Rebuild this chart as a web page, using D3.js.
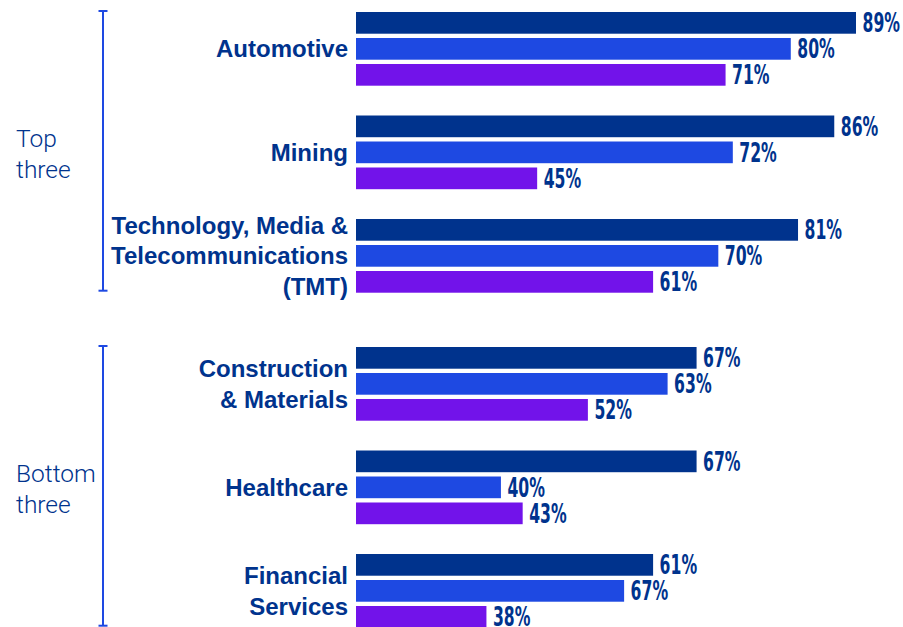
<!DOCTYPE html>
<html>
<head>
<meta charset="utf-8">
<script src="https://cdn.jsdelivr.net/npm/d3@7"></script>
<style>
  html, body { margin: 0; padding: 0; background: #fff; }
  svg { display: block; }
</style>
</head>
<body>
<svg id="chart" width="903" height="627"></svg>
<script>
// sector groups and their wrapped label lines
const topSectors = ['Automotive', 'Mining', 'TMT'];
const bottomSectors = ['Construction', 'Healthcare', 'Financial'];
const sectorLabels = {
  Automotive: ['Automotive'],
  Mining: ['Mining'],
  TMT: ['Technology, Media &', 'Telecommunications', '(TMT)'],
  Construction: ['Construction', '& Materials'],
  Healthcare: ['Healthcare'],
  Financial: ['Financial', 'Services'],
};
const blockLabels = [['Top', 'three'], ['Bottom', 'three']];

// three series per sector (top to bottom bar), bar lengths as drawn
const seriesKeys = ['s1', 's2', 's3'];
const s1 = [89, 86, 81, 67, 67, 61];
const s2 = [80, 72, 70, 63, 40, 57];
const s3 = [71, 45, 61, 52, 43, 38];

// printed labels (the original prints 67% on the Financial Services middle bar)
const s1Labels = ['89%', '86%', '81%', '67%', '67%', '61%'];
const s2Labels = ['80%', '72%', '70%', '63%', '40%', '67%'];
const s3Labels = ['71%', '45%', '61%', '52%', '43%', '38%'];

const colors = { s1: '#00338D', s2: '#1E49E2', s3: '#7213EA' };
const textColor = '#00338D';

const allSectors = topSectors.concat(bottomSectors);
const data = allSectors.map((name, i) => ({
  name,
  s1: s1[i], s2: s2[i], s3: s3[i],
  labels: { s1: s1Labels[i], s2: s2Labels[i], s3: s3Labels[i] },
}));

const svg = d3.select('#chart');

const x = d3.scaleLinear()
  .domain([20, 89])
  .range([356, 856]);

const blocks = [
  { sectors: topSectors, range: [12, 292.7], label: blockLabels[0] },
  { sectors: bottomSectors, range: [347, 627.7], label: blockLabels[1] },
];

const inner = d3.scaleBand()
  .domain(seriesKeys)
  .range([0, 73.7])
  .paddingInner(0.165);

const valueFont = '"Liberation Sans Narrow", "Arial Narrow", "DejaVu Sans Condensed", sans-serif';

// squeeze factor so "89%" comes out ~37px wide like the condensed original
const probe = svg.append('text')
  .style('font-family', valueFont)
  .style('font-weight', 'bold')
  .style('font-size', '27px')
  .text('89%');
const squeeze = 37.5 / probe.node().getComputedTextLength();
probe.remove();

blocks.forEach((block) => {
  const y = d3.scaleBand()
    .domain(block.sectors)
    .range(block.range)
    .paddingInner(0.288)
    .paddingOuter(0);

  const rows = data.filter((d) => block.sectors.includes(d.name));

  const g = svg.append('g');

  const groups = g.selectAll('.sector')
    .data(rows)
    .join('g')
    .attr('class', 'sector')
    .attr('transform', (d) => `translate(0,${y(d.name)})`);

  const cells = (d) => seriesKeys.map((k) => ({ key: k, value: d[k], label: d.labels[k] }));

  groups.selectAll('rect')
    .data(cells)
    .join('rect')
    .attr('x', x(20))
    .attr('y', (d) => inner(d.key))
    .attr('width', (d) => x(d.value) - x(20))
    .attr('height', inner.bandwidth())
    .attr('fill', (d) => colors[d.key]);

  // value labels, condensed bold
  groups.selectAll('.val')
    .data(cells)
    .join('text')
    .attr('class', 'val')
    .attr('transform', (d) => `translate(${x(d.value) + 6.5},${inner(d.key) + inner.bandwidth() / 2 + 9.5}) scale(${squeeze},1)`)
    .attr('fill', textColor)
    .style('font-family', valueFont)
    .style('font-weight', 'bold')
    .style('font-size', '27px')
    .text((d) => d.label);

  // sector labels on the left of the bars
  groups.each(function (d) {
    const lines = sectorLabels[d.name];
    const lineH = 30.5;
    const mid = inner.range()[1] / 2;
    const t = d3.select(this).append('text')
      .attr('text-anchor', 'end')
      .attr('fill', textColor)
      .style('font-family', '"Liberation Sans", Arial, sans-serif')
      .style('font-weight', 'bold')
      .style('font-size', '24px');
    lines.forEach((line, i) => {
      t.append('tspan')
        .attr('x', 348)
        .attr('y', mid + 8.5 + (i - (lines.length - 1) / 2) * lineH)
        .text(line);
    });
  });

  // bracket
  const [y0, y1] = block.range;
  const bx = 103;
  g.append('line')
    .attr('x1', bx).attr('x2', bx)
    .attr('y1', y0 - 1).attr('y2', y1 - 2)
    .attr('stroke', '#1E49E2')
    .attr('stroke-width', 2);
  [y0 - 1, y1 - 2].forEach((yy) => {
    g.append('line')
      .attr('x1', bx - 4.5).attr('x2', bx + 4.5)
      .attr('y1', yy).attr('y2', yy)
      .attr('stroke', '#1E49E2')
      .attr('stroke-width', 2);
  });

  // block label
  const cy = (y0 + y1) / 2;
  const bl = g.append('text')
    .attr('fill', textColor)
    .style('font-family', 'Roboto, "Open Sans", sans-serif')
    .style('font-weight', 300)
    .style('font-size', '24.5px');
  block.label.forEach((line, i) => {
    bl.append('tspan')
      .attr('x', 16)
      .attr('y', cy - 5 + i * 30.5)
      .text(line);
  });
});
</script>
</body>
</html>
